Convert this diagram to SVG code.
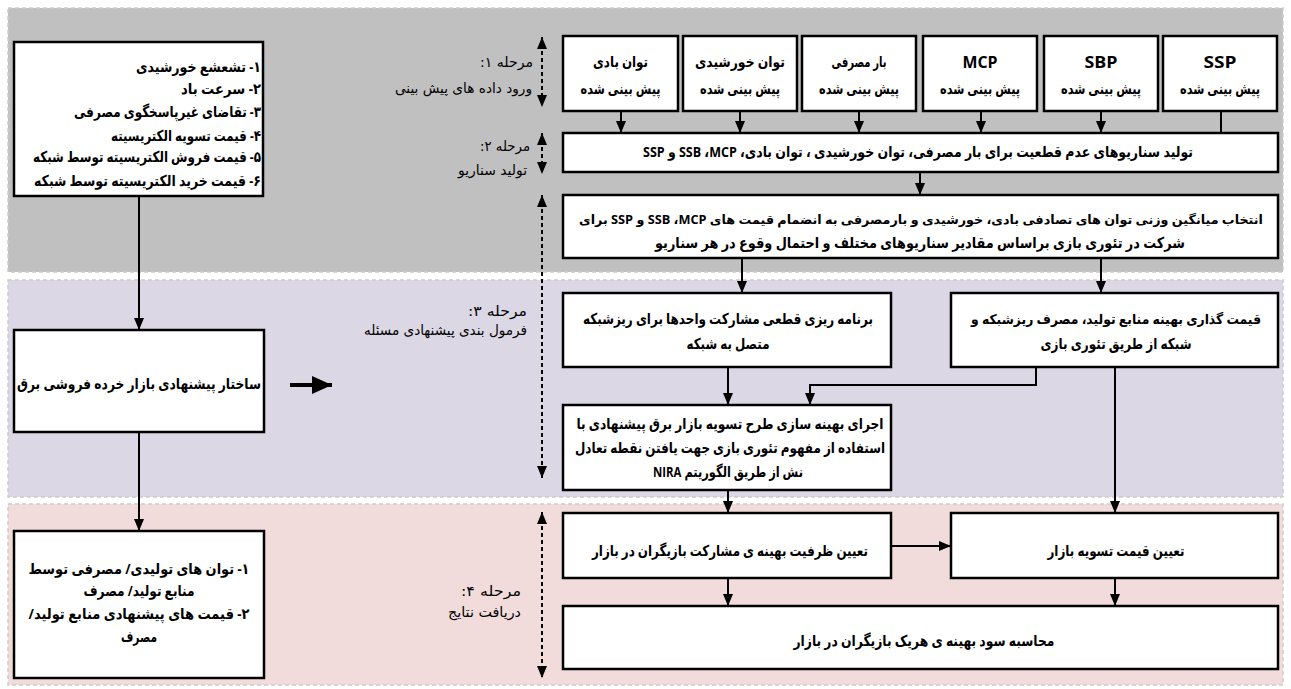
<svg xmlns="http://www.w3.org/2000/svg" width="1291" height="689" viewBox="0 0 1291 689">
  <defs>
    <marker id="ah" viewBox="0 0 12 10" refX="12" refY="5" markerWidth="12" markerHeight="10" markerUnits="userSpaceOnUse" orient="auto-start-reverse">
      <path d="M0,0 L12,5 L0,10 z" fill="#000"/>
    </marker>
    <marker id="ahBig" viewBox="0 0 20 18" refX="20" refY="9" markerWidth="20" markerHeight="18" markerUnits="userSpaceOnUse" orient="auto">
      <path d="M0,0 L20,9 L0,18 z" fill="#000"/>
    </marker>
  </defs>
  <style>
    .band { stroke: #cccccc; stroke-width: 1.5; stroke-dasharray: 4 3; }
    .box { fill: #ffffff; stroke: #000000; stroke-width: 2.5; }
    .t { font-family: "Open Sans", "DejaVu Sans", sans-serif; font-weight: bold; font-size: 15px; direction: rtl; text-anchor: middle; fill: #000; }
    .lat { font-size: 16px; }
    .sm { font-size: 13.5px; }
    .xs { font-size: 12.5px; }
    .stage { font-family: "DejaVu Sans", sans-serif; font-size: 14px; direction: rtl; text-anchor: middle; fill: #000; }
    .c { fill: none; stroke: #000; stroke-width: 2; }
    .arr { marker-end: url(#ah); }
    .d { fill: none; stroke: #000; stroke-width: 2; stroke-dasharray: 4 3; marker-start: url(#ah); marker-end: url(#ah); }
  </style>

  <!-- phase bands -->
  <g id="bands">
    <rect class="band" x="8" y="8" width="1275" height="264" fill="#c0c0c0"/>
    <rect class="band" x="8" y="280" width="1275" height="217" fill="#dcd7e4"/>
    <rect class="band" x="8" y="504" width="1275" height="181" fill="#f2dcdb"/>
  </g>

  <!-- phase labels with their span markers -->
  <g id="stage1">
    <line class="d" x1="542" y1="37" x2="542" y2="107"/>
    <text class="stage" x="506.5" y="67" textLength="53" lengthAdjust="spacingAndGlyphs">مرحله ۱:</text>
    <text class="stage" x="463.5" y="93" textLength="137" lengthAdjust="spacingAndGlyphs">ورود داده های پیش بینی</text>
  </g>
  <g id="stage2">
    <line class="d" x1="542" y1="133" x2="542" y2="174"/>
    <text class="stage" x="505" y="151" textLength="50" lengthAdjust="spacingAndGlyphs">مرحله ۲:</text>
    <text class="stage" x="492.5" y="175" textLength="69" lengthAdjust="spacingAndGlyphs">تولید سناریو</text>
  </g>
  <g id="stage3">
    <line class="d" x1="542" y1="195" x2="542" y2="478"/>
    <text class="stage" x="497.5" y="316" textLength="59" lengthAdjust="spacingAndGlyphs">مرحله ۳:</text>
    <text class="stage" x="445.5" y="335" textLength="163" lengthAdjust="spacingAndGlyphs">فرمول بندی پیشنهادی مسئله</text>
  </g>
  <g id="stage4">
    <line class="d" x1="542" y1="512" x2="542" y2="678"/>
    <text class="stage" x="491" y="596" textLength="60" lengthAdjust="spacingAndGlyphs">مرحله ۴:</text>
    <text class="stage" x="484.5" y="617" textLength="73" lengthAdjust="spacingAndGlyphs">دریافت نتایج</text>
  </g>

  <!-- connectors -->
  <g id="connectors">
    <line class="c arr" x1="139" y1="196" x2="139" y2="330"/>
    <line class="c arr" x1="139" y1="432" x2="139" y2="531"/>
    <line x1="290" y1="385" x2="332" y2="385" stroke="#000" stroke-width="4" marker-end="url(#ahBig)"/>

    <line class="c arr" x1="621" y1="111" x2="621" y2="133"/>
    <line class="c arr" x1="740" y1="111" x2="740" y2="133"/>
    <line class="c arr" x1="859" y1="111" x2="859" y2="133"/>
    <line class="c arr" x1="981" y1="111" x2="981" y2="133"/>
    <line class="c arr" x1="1101" y1="111" x2="1101" y2="133"/>
    <line class="c" x1="1221" y1="111" x2="1221" y2="133"/>

    <line class="c arr" x1="920" y1="172" x2="920" y2="195"/>
    <line class="c arr" x1="742" y1="258" x2="742" y2="293"/>
    <line class="c arr" x1="1101" y1="258" x2="1101" y2="293"/>

    <line class="c arr" x1="728" y1="367" x2="728" y2="405"/>
    <polyline class="c arr" points="1036,367 1036,385 810,385 810,405"/>
    <line class="c arr" x1="1115" y1="367" x2="1115" y2="513"/>

    <line class="c arr" x1="728" y1="490" x2="728" y2="513"/>
    <line class="c arr" x1="891" y1="546" x2="951" y2="546"/>
    <line class="c arr" x1="728" y1="578" x2="728" y2="606"/>
    <line class="c arr" x1="1115" y1="578" x2="1115" y2="606"/>
  </g>

  <!-- left column -->
  <g id="inputs">
    <rect class="box" x="14" y="42" width="249" height="154"/>
    <text class="t" x="198.5" y="72" textLength="125" lengthAdjust="spacingAndGlyphs">۱- تشعشع خورشیدی</text>
    <text class="t" x="221" y="94" textLength="80" lengthAdjust="spacingAndGlyphs">۲- سرعت باد</text>
    <text class="t" x="167.5" y="117" textLength="187" lengthAdjust="spacingAndGlyphs">۳- تقاضای غیرپاسخگوی مصرفی</text>
    <text class="t" x="186" y="141" textLength="150" lengthAdjust="spacingAndGlyphs">۴- قیمت تسویه الکتریسیته</text>
    <text class="t" x="147" y="162" textLength="228" lengthAdjust="spacingAndGlyphs">۵- قیمت فروش الکتریسیته توسط شبکه</text>
    <text class="t" x="147.5" y="186" textLength="227" lengthAdjust="spacingAndGlyphs">۶- قیمت خرید الکتریسیته توسط شبکه</text>
  </g>
  <g id="market-structure">
    <rect class="box" x="14" y="330" width="250" height="102"/>
    <text class="t" x="139" y="389" textLength="244" lengthAdjust="spacingAndGlyphs">ساختار پیشنهادی بازار خرده فروشی برق</text>
  </g>
  <g id="outputs">
    <rect class="box" x="14" y="531" width="250" height="147"/>
    <text class="t" x="139" y="574" textLength="221" lengthAdjust="spacingAndGlyphs">۱- توان های تولیدی/ مصرفی توسط</text>
    <text class="t" x="139" y="596" textLength="111" lengthAdjust="spacingAndGlyphs">منابع تولید/ مصرف</text>
    <text class="t" x="139" y="619" textLength="221" lengthAdjust="spacingAndGlyphs">۲- قیمت های پیشنهادی منابع تولید/</text>
    <text class="t" x="139" y="642" textLength="36" lengthAdjust="spacingAndGlyphs">مصرف</text>
  </g>

  <!-- phase 1: forecast inputs -->
  <g id="wind">
    <rect class="box" x="563" y="36" width="115" height="75"/>
    <text class="t" x="620.5" y="67" textLength="55" lengthAdjust="spacingAndGlyphs">توان بادی</text>
    <text class="t" x="620.5" y="94" textLength="80" lengthAdjust="spacingAndGlyphs">پیش بینی شده</text>
  </g>
  <g id="solar">
    <rect class="box" x="683" y="36" width="114" height="75"/>
    <text class="t" x="740" y="67" textLength="90" lengthAdjust="spacingAndGlyphs">توان خورشیدی</text>
    <text class="t" x="740" y="94" textLength="80" lengthAdjust="spacingAndGlyphs">پیش بینی شده</text>
  </g>
  <g id="load">
    <rect class="box" x="802" y="36" width="114" height="75"/>
    <text class="t" x="859" y="67" textLength="55" lengthAdjust="spacingAndGlyphs">بار مصرفی</text>
    <text class="t" x="859" y="94" textLength="80" lengthAdjust="spacingAndGlyphs">پیش بینی شده</text>
  </g>
  <g id="mcp">
    <rect class="box" x="923" y="36" width="114" height="75"/>
    <text class="t lat" x="980" y="68" textLength="35" lengthAdjust="spacingAndGlyphs">MCP</text>
    <text class="t" x="980" y="94" textLength="80" lengthAdjust="spacingAndGlyphs">پیش بینی شده</text>
  </g>
  <g id="sbp">
    <rect class="box" x="1044" y="36" width="114" height="75"/>
    <text class="t lat" x="1101" y="68" textLength="33" lengthAdjust="spacingAndGlyphs">SBP</text>
    <text class="t" x="1101" y="94" textLength="80" lengthAdjust="spacingAndGlyphs">پیش بینی شده</text>
  </g>
  <g id="ssp">
    <rect class="box" x="1163" y="36" width="114" height="75"/>
    <text class="t lat" x="1220" y="68" textLength="33" lengthAdjust="spacingAndGlyphs">SSP</text>
    <text class="t" x="1220" y="94" textLength="80" lengthAdjust="spacingAndGlyphs">پیش بینی شده</text>
  </g>

  <!-- phase 2: scenarios -->
  <g id="scenarios">
    <rect class="box" x="563" y="133" width="715" height="39"/>
    <text class="t" x="918" y="157" textLength="550" lengthAdjust="spacingAndGlyphs">تولید سناریوهای عدم قطعیت برای بار مصرفی، توان خورشیدی ، توان بادی، MCP&#x200F;، SSB و SSP</text>
  </g>
  <g id="weighted-average">
    <rect class="box" x="563" y="195" width="715" height="63"/>
    <text class="t xs" x="921" y="224" textLength="684" lengthAdjust="spacingAndGlyphs">انتخاب میانگین وزنی توان های تصادفی بادی، خورشیدی و بارمصرفی به انضمام قیمت های MCP&#x200F;، SSB و SSP برای</text>
    <text class="t" x="920" y="248" textLength="530" lengthAdjust="spacingAndGlyphs">شرکت در تئوری بازی براساس مقادیر سناریوهای مختلف و احتمال وقوع در هر سناریو</text>
  </g>

  <!-- phase 3: formulation -->
  <g id="unit-commitment">
    <rect class="box" x="563" y="293" width="328" height="74"/>
    <text class="t" x="728" y="324" textLength="290" lengthAdjust="spacingAndGlyphs">برنامه ریزی قطعی مشارکت واحدها برای ریزشبکه</text>
    <text class="t" x="728" y="349" textLength="83" lengthAdjust="spacingAndGlyphs">متصل به شبکه</text>
  </g>
  <g id="pricing">
    <rect class="box" x="951" y="293" width="327" height="74"/>
    <text class="t sm" x="1116" y="324" textLength="290" lengthAdjust="spacingAndGlyphs">قیمت گذاری بهینه منابع تولید، مصرف ریزشبکه و</text>
    <text class="t" x="1116" y="349" textLength="151" lengthAdjust="spacingAndGlyphs">شبکه از طریق تئوری بازی</text>
  </g>
  <g id="nira">
    <rect class="box" x="563" y="405" width="328" height="85"/>
    <text class="t" x="730" y="429" textLength="307" lengthAdjust="spacingAndGlyphs">اجرای بهینه سازی طرح تسویه بازار برق پیشنهادی با</text>
    <text class="t" x="730" y="453" textLength="310" lengthAdjust="spacingAndGlyphs">استفاده از مفهوم تئوری بازی جهت یافتن نقطه تعادل</text>
    <text class="t" x="728" y="477" textLength="150" lengthAdjust="spacingAndGlyphs">نش از طریق الگوریتم NIRA</text>
  </g>

  <!-- phase 4: results -->
  <g id="capacity">
    <rect class="box" x="563" y="513" width="328" height="65"/>
    <text class="t" x="730" y="556" textLength="276" lengthAdjust="spacingAndGlyphs">تعیین ظرفیت بهینه ی مشارکت بازیگران در بازار</text>
  </g>
  <g id="clearing-price">
    <rect class="box" x="951" y="513" width="327" height="65"/>
    <text class="t" x="1116" y="556" textLength="137" lengthAdjust="spacingAndGlyphs">تعیین قیمت تسویه بازار</text>
  </g>
  <g id="profit">
    <rect class="box" x="563" y="606" width="715" height="63"/>
    <text class="t" x="924" y="646" textLength="261" lengthAdjust="spacingAndGlyphs">محاسبه سود بهینه ی هریک بازیگران در بازار</text>
  </g>
</svg>
